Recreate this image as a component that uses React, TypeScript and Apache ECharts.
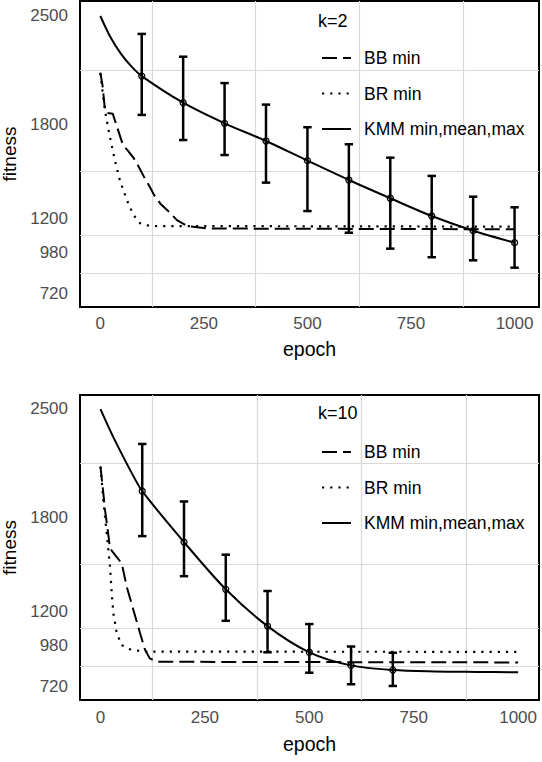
import React, { useEffect, useRef } from 'react';
import * as echarts from 'echarts';

// axis labels and (minor) grid lines, as in the original plot
const xLabelValues = [0, 250, 500, 750, 1000];
const xGridValues = [125, 375, 625, 875];
const yLabelValues = [720, 980, 1200, 1800, 2500];
const yGridValues = [850, 1090, 1500, 2150];
const legendNames = ['BB min', 'BR min', 'KMM min,mean,max'];
const panelTitles = ['k=2', 'k=10'];

// k=2 panel
const bbEpochK2 = [0, 5, 10, 14, 30, 40, 55, 65, 80, 90, 105, 120, 130, 145, 165, 185, 210, 260, 1000];
const bbMinK2 = [2135, 2060, 1930, 1878, 1872, 1790, 1668, 1640, 1590, 1545, 1470, 1400, 1350, 1295, 1245, 1190, 1152, 1136, 1131];
const brEpochK2 = [0, 11, 23, 35, 47, 64, 80, 96, 120, 1000];
const brMinK2 = [2132, 1896, 1725, 1575, 1447, 1319, 1223, 1170, 1152, 1148];
const kmmEpochK2 = [0, 25, 50, 75, 100, 200, 300, 400, 500, 600, 700, 800, 900, 1000];
const kmmCurveK2 = [2498, 2360, 2255, 2175, 2113, 1942, 1810, 1697, 1571, 1447, 1330, 1216, 1122, 1045];
const errEpochK2 = [100, 200, 300, 400, 500, 600, 700, 800, 900, 1000];
const errMeanK2 = [2113, 1942, 1810, 1697, 1571, 1447, 1330, 1216, 1122, 1045];
const errLowK2 = [1864, 1703, 1607, 1430, 1248, 1109, 1007, 952, 932, 885];
const errHighK2 = [2383, 2237, 2068, 1930, 1785, 1676, 1590, 1473, 1340, 1272];

// k=10 panel
const bbEpochK10 = [0, 7, 11, 17, 23, 39, 51, 63, 79, 95, 107, 118, 136, 1000];
const bbMinK10 = [2129, 1954, 1848, 1730, 1603, 1549, 1507, 1357, 1208, 1059, 952, 899, 877, 873];
const brEpochK10 = [0, 7, 15, 23, 27, 31, 39, 51, 71, 103, 1000];
const brMinK10 = [2129, 1911, 1699, 1485, 1315, 1187, 1059, 984, 957, 942, 941];
const kmmEpochK10 = [0, 25, 50, 75, 100, 200, 300, 400, 500, 600, 700, 800, 900, 1000];
const kmmCurveK10 = [2497, 2350, 2215, 2087, 1971, 1645, 1342, 1106, 938, 854, 824, 815, 812, 810];
const errEpochK10 = [100, 200, 300, 400, 500, 600, 700];
const errMeanK10 = [1971, 1645, 1342, 1106, 938, 854, 824];
const errLowK10 = [1683, 1426, 1140, 938, 807, 733, 722];
const errHighK10 = [2274, 1905, 1564, 1331, 1119, 975, 935];

const FONT = 'Liberation Sans, Arial, Helvetica, sans-serif';

const pairs = (xs: number[], ys: number[]) => xs.map((x, i) => [x, ys[i]]);
const bars = (xs: number[], m: number[], lo: number[], hi: number[]) =>
  xs.map((x, i) => [x, m[i], lo[i], hi[i]]);

const renderErrorBar = (params: any, api: any) => {
  const x = api.value(0);
  const pm = api.coord([x, api.value(1)]);
  const pl = api.coord([x, api.value(2)]);
  const ph = api.coord([x, api.value(3)]);
  const cap = 4.2;
  const stroke = { stroke: '#000', lineWidth: 2.5 };
  return {
    type: 'group',
    children: [
      { type: 'line', shape: { x1: pl[0], y1: pl[1], x2: ph[0], y2: ph[1] }, style: stroke },
      { type: 'line', shape: { x1: pl[0] - cap, y1: pl[1], x2: pl[0] + cap, y2: pl[1] }, style: stroke },
      { type: 'line', shape: { x1: ph[0] - cap, y1: ph[1], x2: ph[0] + cap, y2: ph[1] }, style: stroke },
      { type: 'circle', shape: { cx: pm[0], cy: pm[1], r: 3 }, style: { fill: 'none', stroke: '#000', lineWidth: 1.3 } },
    ],
  };
};

const App: React.FC = () => {
  const chartRef = useRef<HTMLDivElement>(null);

  useEffect(() => {
    const chart = echarts.init(chartRef.current, null, { renderer: 'svg' });

    const panels = [
      { top: 1, height: 306, xMax: 1059, yMin: 633, yMax: 2594, nameGap: 32, labelMargin: 8, legendTop: 49, titleTop: 12 },
      { top: 395, height: 305, xMax: 1050, yMin: 632, yMax: 2588, nameGap: 34, labelMargin: 9, legendTop: 443, titleTop: 404 },
    ];
    const seriesData = [
      { bb: pairs(bbEpochK2, bbMinK2), br: pairs(brEpochK2, brMinK2), kmm: pairs(kmmEpochK2, kmmCurveK2), err: bars(errEpochK2, errMeanK2, errLowK2, errHighK2) },
      { bb: pairs(bbEpochK10, bbMinK10), br: pairs(brEpochK10, brMinK10), kmm: pairs(kmmEpochK10, kmmCurveK10), err: bars(errEpochK10, errMeanK10, errLowK10, errHighK10) },
    ];

    const option: any = {
      animation: false,
      backgroundColor: '#fff',
      textStyle: { fontFamily: FONT },
      title: panels.map((p, i) => ({
        text: panelTitles[i],
        left: 318,
        top: p.titleTop,
        padding: 0,
        textStyle: { fontFamily: FONT, fontSize: 18, fontWeight: 'normal', color: '#000' },
      })),
      legend: panels.map((p) => ({
        data: legendNames,
        orient: 'vertical',
        left: 321,
        top: p.legendTop,
        padding: 0,
        itemWidth: 29,
        itemHeight: 14,
        itemGap: 17.5,
        selectedMode: false,
        itemStyle: { opacity: 0 },
        textStyle: { fontFamily: FONT, fontSize: 17.5, color: '#000', padding: [0, 0, 0, 8] },
      })),
      grid: panels.map((p) => ({
        left: 80,
        width: 459,
        top: p.top,
        height: p.height,
        containLabel: false,
        outerBoundsMode: 'none',
        show: true,
        borderColor: '#000',
        borderWidth: 2,
        backgroundColor: 'transparent',
      })),
      xAxis: panels.map((p, i) => ({
        type: 'value',
        gridIndex: i,
        min: -49,
        max: p.xMax,
        name: 'epoch',
        nameLocation: 'middle',
        nameGap: p.nameGap,
        nameTextStyle: { fontFamily: FONT, fontSize: 19.5, color: '#000' },
        axisLine: { show: false },
        axisTick: { show: false, customValues: xGridValues },
        axisLabel: {
          customValues: xLabelValues,
          formatter: (v: number) => String(v),
          margin: p.labelMargin,
          fontSize: 17,
          color: '#4d4d4d',
          fontFamily: FONT,
        },
        splitLine: { show: true, lineStyle: { color: '#d9d9d9', width: 1.2 } },
      })),
      yAxis: panels.map((p, i) => ({
        type: 'value',
        gridIndex: i,
        min: p.yMin,
        max: p.yMax,
        name: 'fitness',
        nameLocation: 'middle',
        nameGap: 58,
        nameTextStyle: { fontFamily: FONT, fontSize: 19, color: '#000' },
        axisLine: { show: false },
        axisTick: { show: false, customValues: yGridValues },
        axisLabel: {
          customValues: yLabelValues,
          formatter: (v: number) => String(v),
          margin: 12,
          fontSize: 17,
          color: '#4d4d4d',
          fontFamily: FONT,
        },
        splitLine: { show: true, lineStyle: { color: '#d9d9d9', width: 1.2 } },
      })),
      series: seriesData.flatMap((d, i) => [
        {
          name: 'BB min',
          type: 'line',
          xAxisIndex: i,
          yAxisIndex: i,
          data: d.bb,
          symbol: 'none',
          lineStyle: { color: '#000', width: 2, type: [15, 6] },
          itemStyle: { color: '#000' },
          z: 3,
        },
        {
          name: 'BR min',
          type: 'line',
          xAxisIndex: i,
          yAxisIndex: i,
          data: d.br,
          symbol: 'none',
          lineStyle: { color: '#000', width: 2.2, type: [2.2, 6] },
          itemStyle: { color: '#000' },
          z: 3,
        },
        {
          name: 'KMM min,mean,max',
          type: 'line',
          xAxisIndex: i,
          yAxisIndex: i,
          data: d.kmm,
          symbol: 'none',
          smooth: 0.3,
          lineStyle: { color: '#000', width: 2 },
          itemStyle: { color: '#000' },
          z: 4,
        },
        {
          name: 'KMM error bars',
          type: 'custom',
          xAxisIndex: i,
          yAxisIndex: i,
          data: d.err,
          encode: { x: 0, y: [1, 2, 3] },
          renderItem: renderErrorBar,
          z: 5,
        },
      ]),
    };

    chart.setOption(option);
    return () => {
      chart.dispose();
    };
  }, []);

  return <div ref={chartRef} style={{ position: 'absolute', left: 0, top: 0, width: 542, height: 762 }} />;
};

export default App;
